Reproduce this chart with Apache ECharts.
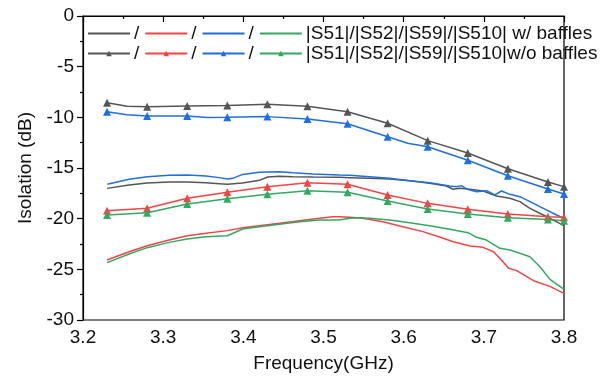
<!DOCTYPE html>
<html>
<head>
<meta charset="utf-8">
<script src="https://cdn.jsdelivr.net/npm/echarts@6/dist/echarts.min.js"></script>
<style>html,body{margin:0;padding:0;background:#fff;}#c{width:607px;height:378px;}</style>
</head>
<body>
<div id="c"></div>
<script>
// ---- data ----
const xTicks = [3.2, 3.3, 3.4, 3.5, 3.6, 3.7, 3.8];
const yTicks = [0, -5, -10, -15, -20, -25, -30];
const markerFreqs = [3.23, 3.28, 3.33, 3.38, 3.43, 3.48, 3.53, 3.58, 3.63, 3.68, 3.73, 3.78, 3.8];

// w/o baffles (with triangle markers)
const s51WoF = [3.23, 3.255, 3.28, 3.33, 3.38, 3.43, 3.48, 3.53, 3.58, 3.63, 3.68, 3.73, 3.78, 3.8];
const s51WoV = [-8.55, -8.9, -8.95, -8.88, -8.82, -8.72, -8.91, -9.44, -10.59, -12.3, -13.52, -15.07, -16.38, -16.84];
const s59WoF = [3.23, 3.255, 3.28, 3.33, 3.355, 3.38, 3.43, 3.48, 3.53, 3.58, 3.605, 3.63, 3.68, 3.73, 3.78, 3.8];
const s59WoV = [-9.44, -9.75, -9.87, -9.87, -10.02, -10.0, -9.93, -10.16, -10.63, -11.91, -12.55, -12.9, -14.24, -15.76, -17.07, -17.57];
const s52WoF = [3.23, 3.28, 3.33, 3.38, 3.43, 3.48, 3.53, 3.58, 3.63, 3.68, 3.73, 3.78, 3.8];
const s52WoV = [-19.21, -18.98, -17.99, -17.40, -16.84, -16.45, -16.61, -17.66, -18.49, -19.08, -19.54, -19.8, -19.87];
const s510WoF = [3.23, 3.28, 3.33, 3.38, 3.43, 3.48, 3.53, 3.58, 3.63, 3.68, 3.73, 3.78, 3.8];
const s510WoV = [-19.64, -19.41, -18.55, -18.03, -17.6, -17.24, -17.40, -18.26, -19.05, -19.54, -19.9, -20.07, -20.2];

// w/ baffles (plain lines)
const s51WF = [3.23, 3.2575, 3.28, 3.3075, 3.33, 3.3533, 3.37, 3.38, 3.3992, 3.42, 3.4304, 3.445, 3.4617, 3.4867, 3.52, 3.5325, 3.5575, 3.5825, 3.6075, 3.6325, 3.6533, 3.6617, 3.67, 3.6825, 3.6992, 3.7158, 3.7325, 3.745, 3.7575, 3.7742, 3.7908, 3.8];
const s51WV = [-17.01, -16.68, -16.48, -16.38, -16.38, -16.45, -16.55, -16.61, -16.48, -16.22, -15.89, -15.82, -15.86, -15.89, -15.92, -15.95, -16.02, -16.09, -16.25, -16.51, -16.78, -17.1, -17.01, -17.1, -17.27, -17.76, -17.99, -18.32, -18.98, -19.64, -20.3, -20.72];
const s59WF = [3.2304, 3.2575, 3.2804, 3.3075, 3.3304, 3.3533, 3.37, 3.3804, 3.3867, 3.3992, 3.42, 3.4304, 3.445, 3.4617, 3.4867, 3.52, 3.5325, 3.5575, 3.5825, 3.6075, 3.6325, 3.6575, 3.6658, 3.672, 3.6783, 3.6908, 3.7033, 3.7137, 3.7221, 3.7325, 3.745, 3.7575, 3.7742, 3.7908, 3.8];
const s59WV = [-16.61, -16.12, -15.86, -15.72, -15.69, -15.79, -15.95, -16.09, -16.02, -15.63, -15.43, -15.40, -15.36, -15.46, -15.59, -15.69, -15.72, -15.86, -16.02, -16.25, -16.45, -16.78, -16.84, -16.74, -17.07, -17.34, -17.24, -17.66, -17.27, -17.6, -17.83, -18.32, -18.98, -19.64, -19.97];
const s52WF = [3.23, 3.2575, 3.28, 3.3075, 3.33, 3.3533, 3.38, 3.3992, 3.42, 3.445, 3.47, 3.495, 3.5117, 3.52, 3.5325, 3.549, 3.574, 3.599, 3.624, 3.641, 3.662, 3.683, 3.699, 3.712, 3.722, 3.731, 3.741, 3.762, 3.783, 3.8];
const s52WV = [-24.08, -23.26, -22.67, -22.11, -21.68, -21.45, -21.18, -20.89, -20.69, -20.46, -20.2, -19.97, -19.8, -19.8, -19.87, -19.97, -20.3, -20.79, -21.28, -21.71, -22.27, -22.7, -22.83, -23.26, -24.08, -24.9, -25.13, -26.12, -26.71, -27.37];
const s510WF = [3.23, 3.2575, 3.28, 3.3075, 3.33, 3.3533, 3.38, 3.3992, 3.42, 3.445, 3.47, 3.495, 3.52, 3.5325, 3.5408, 3.5575, 3.5825, 3.6075, 3.6325, 3.6575, 3.6804, 3.6908, 3.7033, 3.72, 3.7325, 3.745, 3.7575, 3.77, 3.7825, 3.8];
const s510WV = [-24.34, -23.49, -22.86, -22.34, -22.0, -21.78, -21.68, -21.02, -20.79, -20.56, -20.3, -20.13, -20.13, -19.97, -19.9, -19.97, -20.13, -20.4, -20.69, -21.05, -21.38, -21.84, -22.11, -22.93, -23.09, -23.42, -23.75, -24.74, -25.99, -26.97];

const legendLabels = {
  'S51 w/': '/', 'S52 w/': '/', 'S59 w/': '/', 'S510 w/': '|S51|/|S52|/|S59|/|S510| w/ baffles',
  'S51 w/o': '/', 'S52 w/o': '/', 'S59 w/o': '/', 'S510 w/o': '|S51|/|S52|/|S59|/|S510|w/o baffles'
};
const legendRow1 = ['S51 w/', 'S52 w/', 'S59 w/', 'S510 w/'];
const legendRow2 = ['S51 w/o', 'S52 w/o', 'S59 w/o', 'S510 w/o'];

// ---- styling ----
const FONT = 'Liberation Sans, Arial, sans-serif';
const C = { gray: '#555555', red: '#f04545', blue: '#1f6fe0', green: '#33a862' };

function plain(f, v) { return f.map((x, i) => [x, v[i]]); }
function marked(f, v) {
  return f.map((x, i) => {
    const isM = markerFreqs.some(m => Math.abs(m - x) < 1e-6);
    return isM ? { value: [x, v[i]] } : { value: [x, v[i]], symbol: 'none' };
  });
}
function lineSeries(name, color, data, withMarker) {
  return {
    name, type: 'line', data, clip: true,
    symbol: withMarker ? 'triangle' : 'none', symbolSize: 8,
    showSymbol: withMarker, showAllSymbol: true,
    lineStyle: { color, width: 1.5 }, itemStyle: { color },
    emphasis: { disabled: true }, animation: false
  };
}

const chart = echarts.init(document.getElementById('c'), null, { renderer: 'canvas' });
const legendCommon = {
  orient: 'horizontal', itemWidth: 42, itemHeight: 7, itemGap: 5,
  textStyle: { fontFamily: FONT, fontSize: 19, color: '#111', padding: [0, 0, 0, -1] },
  formatter: n => legendLabels[n], selectedMode: false, padding: 0
};
chart.setOption({
  backgroundColor: '#fff',
  animation: false,
  grid: { left: 83, right: 43, top: 16, bottom: 58, show: true, borderColor: '#000', borderWidth: 1.2, backgroundColor: 'transparent' },
  legend: [
    Object.assign({}, legendCommon, { left: 87, top: 24, data: legendRow1.map(n => ({ name: n, itemStyle: { opacity: 0 } })) }),
    Object.assign({}, legendCommon, { left: 87, top: 44, data: legendRow2 })
  ],
  xAxis: {
    type: 'value', min: xTicks[0], max: xTicks[xTicks.length - 1], interval: 0.1,
    name: 'Frequency(GHz)', nameLocation: 'middle', nameGap: 34,
    nameTextStyle: { fontFamily: FONT, fontSize: 19, color: '#111' },
    axisLine: { show: true, lineStyle: { color: '#000', width: 1.2 } },
    axisTick: { show: true, inside: false, length: 6, lineStyle: { color: '#000', width: 1.2 } },
    minorTick: { show: true, splitNumber: 2, length: 3, lineStyle: { color: '#000', width: 1.2 } },
    splitLine: { show: false },
    axisLabel: { fontFamily: FONT, fontSize: 19, color: '#111', margin: 8, formatter: v => v.toFixed(1) }
  },
  yAxis: {
    type: 'value', min: yTicks[yTicks.length - 1], max: yTicks[0], interval: 5,
    name: 'Isolation (dB)', nameLocation: 'middle', nameGap: 46,
    nameTextStyle: { fontFamily: FONT, fontSize: 19, color: '#111' },
    axisLine: { show: true, lineStyle: { color: '#000', width: 1.2 } },
    axisTick: { show: true, inside: false, length: 6, lineStyle: { color: '#000', width: 1.2 } },
    minorTick: { show: true, splitNumber: 2, length: 3, lineStyle: { color: '#000', width: 1.2 } },
    splitLine: { show: false },
    axisLabel: { fontFamily: FONT, fontSize: 19, color: '#111', margin: 9 }
  },
  series: [
    lineSeries('S51 w/', C.gray, plain(s51WF, s51WV), false),
    lineSeries('S52 w/', C.red, plain(s52WF, s52WV), false),
    lineSeries('S59 w/', C.blue, plain(s59WF, s59WV), false),
    lineSeries('S510 w/', C.green, plain(s510WF, s510WV), false),
    lineSeries('S51 w/o', C.gray, marked(s51WoF, s51WoV), true),
    lineSeries('S52 w/o', C.red, marked(s52WoF, s52WoV), true),
    lineSeries('S59 w/o', C.blue, marked(s59WoF, s59WoV), true),
    lineSeries('S510 w/o', C.green, marked(s510WoF, s510WoV), true)
  ]
});
</script>
</body>
</html>
